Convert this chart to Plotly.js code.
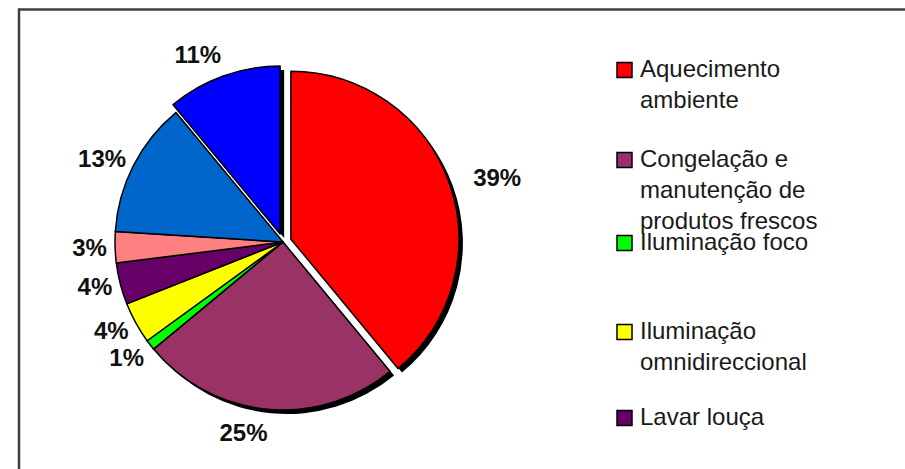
<!DOCTYPE html>
<html>
<head>
<meta charset="utf-8">
<script src="https://cdn.plot.ly/plotly-3.0.1.min.js"></script>
<style>html,body{margin:0;padding:0;background:#fff;}#chart{width:905px;height:469px;}
path.textline{display:none !important;}</style>
</head>
<body>
<div id="chart"></div>
<script>
// ---- data ----
const categories = [
  "Aquecimento ambiente",
  "Congelação e manutenção de produtos frescos",
  "Iluminação foco",
  "Iluminação omnidireccional",
  "Lavar louça",
  "Lavar roupa",
  "Confecção de alimentos",
  "Outros"
];
const legendLabels = [
  "Aquecimento<br>ambiente",
  "Congelação e<br>manutenção de<br>produtos frescos",
  "Iluminação foco",
  "Iluminação<br>omnidireccional",
  "Lavar louça"
];
const shares = [39, 25, 1, 4, 4, 3, 13, 11];
const pulls = [0.05, 0, 0, 0, 0, 0, 0, 0.05];
const colors = ["#FF0000", "#993366", "#00FF00", "#FFFF00", "#660066", "#FF8080", "#0066CC", "#0000FF"];

// ---- layout helpers (styles/positions) ----
const W = 905, H = 469;
const cx = 283, cy = 242, half = 176.4;   // pie centre & half-domain in px
const labelHalf = half + 10;               // labels sit a bit further out
const labelShiftX = 8;
const shadow = 4;
function dom(dx, dy, h) {
  return {
    x: [(cx - h + dx) / W, (cx + h + dx) / W],
    y: [(H - cy - h - dy) / H, (H - cy + h - dy) / H]
  };
}
const legendTops = [53, 143, 226, 315, 401];

const common = {type: 'pie', values: shares, labels: categories, sort: false,
  direction: 'clockwise', rotation: 0, pull: pulls, showlegend: false};

const shadowTrace = Object.assign({}, common, {
  marker: {colors: shares.map(() => '#000000'), line: {color: '#000', width: 0}},
  textinfo: 'none', hoverinfo: 'skip',
  domain: dom(shadow, shadow, half)
});
const mainTrace = Object.assign({}, common, {
  marker: {colors: colors, line: {color: '#000000', width: 1.5}},
  textinfo: 'none',
  domain: dom(0, 0, half)
});
const labelTrace = Object.assign({}, common, {
  marker: {colors: shares.map(() => 'rgba(0,0,0,0)'), line: {color: 'rgba(0,0,0,0)', width: 0}},
  textinfo: 'percent', textposition: 'outside', hoverinfo: 'skip',
  outsidetextfont: {family: 'Liberation Sans, Arial, sans-serif', size: 24, color: '#111111', weight: 'bold'},
  domain: dom(labelShiftX, 0, labelHalf)
});

const annotations = [];
const shapes = [];
legendLabels.forEach((lab, i) => {
  const top = legendTops[i];
  annotations.push({
    xref: 'paper', yref: 'paper', x: 638 / W, y: 1 - top / H,
    xanchor: 'left', yanchor: 'top', align: 'left', showarrow: false,
    text: lab,
    font: {family: 'Liberation Sans, Arial, sans-serif', size: 24, color: '#1a1a1a'}
  });
  const c = top + 17;
  shapes.push({
    type: 'rect', xref: 'paper', yref: 'paper',
    x0: 617 / W, x1: 632 / W, y0: 1 - (c + 7.5) / H, y1: 1 - (c - 7.5) / H,
    fillcolor: colors[i], line: {color: '#000000', width: 1.5}
  });
});
// frame
shapes.push({type: 'line', xref: 'paper', yref: 'paper', x0: 18 / W, x1: 1.01, y0: 1 - 9.5 / H, y1: 1 - 9.5 / H, line: {color: '#404040', width: 2.5}});
shapes.push({type: 'line', xref: 'paper', yref: 'paper', x0: 19 / W, x1: 19 / W, y0: -0.01, y1: 1 - 8.5 / H, line: {color: '#404040', width: 2.5}});

Plotly.newPlot('chart', [shadowTrace, mainTrace, labelTrace], {
  width: W, height: H,
  margin: {l: 0, r: 0, t: 0, b: 0},
  paper_bgcolor: '#ffffff', plot_bgcolor: '#ffffff',
  showlegend: false,
  annotations: annotations,
  shapes: shapes
}, {staticPlot: true});
</script>
</body>
</html>
